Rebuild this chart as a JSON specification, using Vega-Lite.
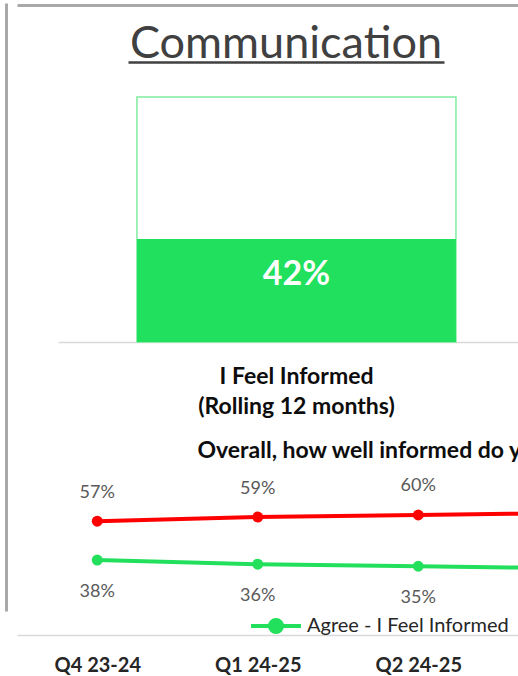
{
  "$schema": "https://vega.github.io/schema/vega-lite/v6.json",
  "width": 518,
  "height": 676,
  "padding": 0,
  "autosize": {"type": "none"},
  "config": {"view": {"stroke": null}, "font": "Lato"},
  "resolve": {"scale": {"x": "independent", "y": "independent"}},
  "layer": [
    {
      "data": {"values": [{"section": "Communication"}]},
      "mark": {"type": "text", "fontSize": 45, "color": "#404040", "baseline": "alphabetic", "align": "center"},
      "encoding": {
        "x": {"field": "section", "type": "nominal", "scale": {"type": "point", "range": [128, 444], "padding": 0.5},
          "axis": {"orient": "top", "offset": -62, "domain": true, "domainColor": "#404040", "domainWidth": 2.5, "ticks": false, "labels": false, "grid": false, "title": null}},
        "y": {"field": "section", "type": "nominal", "scale": {"type": "point", "range": [0, 116], "padding": 0.5}, "axis": null},
        "text": {"field": "section"}
      }
    },
    {
      "data": {"values": [{"measure": "I Feel Informed (Rolling 12 months)", "total": 1, "agree": 0.42}]},
      "encoding": {
        "x": {"field": "measure", "type": "nominal",
          "scale": {"type": "band", "range": [58, 518], "paddingInner": 0, "paddingOuter": 0.221, "align": 0.56},
          "axis": {"orient": "bottom", "offset": -334, "domain": true, "domainColor": "#d9d9d9", "domainWidth": 1.5, "ticks": false, "labels": false, "grid": false,
            "title": ["I Feel Informed", "(Rolling 12 months)"], "titleX": 296, "titleY": 41, "titleAlign": "center", "titleBaseline": "alphabetic", "titleLineHeight": 30, "titleFontSize": 23, "titleFontWeight": "bold", "titleColor": "#0d0d0d"}}
      },
      "layer": [
        {
          "mark": {"type": "bar", "fill": "white", "stroke": "#80eca0", "strokeWidth": 1.5},
          "encoding": {
            "y": {"field": "total", "type": "quantitative", "scale": {"domain": [-1.098, 1.3837], "range": [611, 3], "nice": false, "zero": false},
              "axis": {"orient": "left", "offset": -6, "domain": true, "domainColor": "#a9a9a9", "domainWidth": 3, "ticks": false, "labels": false, "grid": false, "title": null}}
          }
        },
        {
          "mark": {"type": "bar", "fill": "#20e05d"},
          "encoding": {
            "y": {"field": "agree", "type": "quantitative",
              "axis": {"orient": "left", "offset": -6, "domain": true, "domainColor": "#a9a9a9", "domainWidth": 3, "ticks": false, "labels": false, "grid": false, "title": null}}
          }
        },
        {
          "mark": {"type": "text", "fontSize": 34, "fontWeight": "bold", "color": "white", "dy": 36, "baseline": "middle", "align": "center"},
          "encoding": {
            "y": {"field": "agree", "type": "quantitative",
              "axis": {"orient": "left", "offset": -6, "domain": true, "domainColor": "#a9a9a9", "domainWidth": 3, "ticks": false, "labels": false, "grid": false, "title": null}},
            "text": {"field": "agree", "type": "quantitative", "format": ".0%"}
          }
        }
      ]
    },
    {
      "data": {"values": [
        {"quarter": "Q4 23-24", "series": "Agree - I Feel Informed", "value": 0.38},
        {"quarter": "Q1 24-25", "series": "Agree - I Feel Informed", "value": 0.36},
        {"quarter": "Q2 24-25", "series": "Agree - I Feel Informed", "value": 0.35},
        {"quarter": "Q3 24-25", "series": "Agree - I Feel Informed", "value": 0.34},
        {"quarter": "Q4 23-24", "series": "Disagree - I Feel Informed", "value": 0.57},
        {"quarter": "Q1 24-25", "series": "Disagree - I Feel Informed", "value": 0.59},
        {"quarter": "Q2 24-25", "series": "Disagree - I Feel Informed", "value": 0.60},
        {"quarter": "Q3 24-25", "series": "Disagree - I Feel Informed", "value": 0.61}
      ]},
      "encoding": {
        "x": {"field": "quarter", "type": "ordinal",
          "scale": {"type": "point", "domain": ["Q4 23-24", "Q1 24-25", "Q2 24-25", "Q3 24-25"], "range": [17, 659], "padding": 0.5},
          "axis": {"orient": "bottom", "offset": -41, "domain": true, "domainColor": "#d9d9d9", "domainWidth": 1.5, "ticks": false, "grid": false, "labelAngle": 0,
            "values": ["Q4 23-24", "Q1 24-25", "Q2 24-25"],
            "labelFontSize": 20, "labelFontWeight": "bold", "labelColor": "#262626", "labelBaseline": "alphabetic", "labelPadding": 36, "title": null}},
        "y": {"field": "value", "type": "quantitative",
          "scale": {"domain": [-0.18537, 3.1122], "nice": false, "zero": false},
          "axis": {"orient": "left", "domain": false, "ticks": false, "labels": false, "grid": true, "values": [3.09024], "gridColor": "#a9a9a9", "gridWidth": 3, "gridOpacity": 1,
            "title": "Overall, how well informed do you feel about what is happening?", "titleAngle": 0, "titleAlign": "left", "titleBaseline": "alphabetic",
            "titleX": 197, "titleY": 457, "titleFontSize": 23, "titleFontWeight": "bold", "titleColor": "#0d0d0d"}},
        "color": {"field": "series", "type": "nominal",
          "scale": {"domain": ["Agree - I Feel Informed", "Disagree - I Feel Informed"], "range": ["#22e05c", "#ff0000"]},
          "legend": {"orient": "none", "legendX": 249, "legendY": 599, "direction": "horizontal", "title": null, "padding": 0,
            "labelFontSize": 20, "labelColor": "#262626", "labelOffset": 4, "labelLimit": 400, "columnPadding": 30,
            "symbolType": "M-1,0H1M0.24,0A0.24,0.24,0,1,1,-0.24,0A0.24,0.24,0,1,1,0.24,0Z", "symbolSize": 2500, "symbolStrokeWidth": 4,
            "encode": {"symbols": {"update": {"fill": {"scale": "color", "field": "value"}, "stroke": {"scale": "color", "field": "value"}, "opacity": {"value": 1}}}}}}
      },
      "layer": [
        {"mark": {"type": "line", "strokeWidth": 4}},
        {"mark": {"type": "point", "filled": true, "size": 120, "opacity": 1}},
        {
          "transform": [{"filter": "datum.series === 'Disagree - I Feel Informed'"}],
          "mark": {"type": "text", "dy": -28.5, "fontSize": 18, "baseline": "middle", "align": "center"},
          "encoding": {"text": {"field": "value", "type": "quantitative", "format": ".0%"}, "color": {"value": "#595959"}}
        },
        {
          "transform": [{"filter": "datum.series === 'Agree - I Feel Informed'"}],
          "mark": {"type": "text", "dy": 32, "fontSize": 18, "baseline": "middle", "align": "center"},
          "encoding": {"text": {"field": "value", "type": "quantitative", "format": ".0%"}, "color": {"value": "#595959"}}
        }
      ]
    }
  ]
}
